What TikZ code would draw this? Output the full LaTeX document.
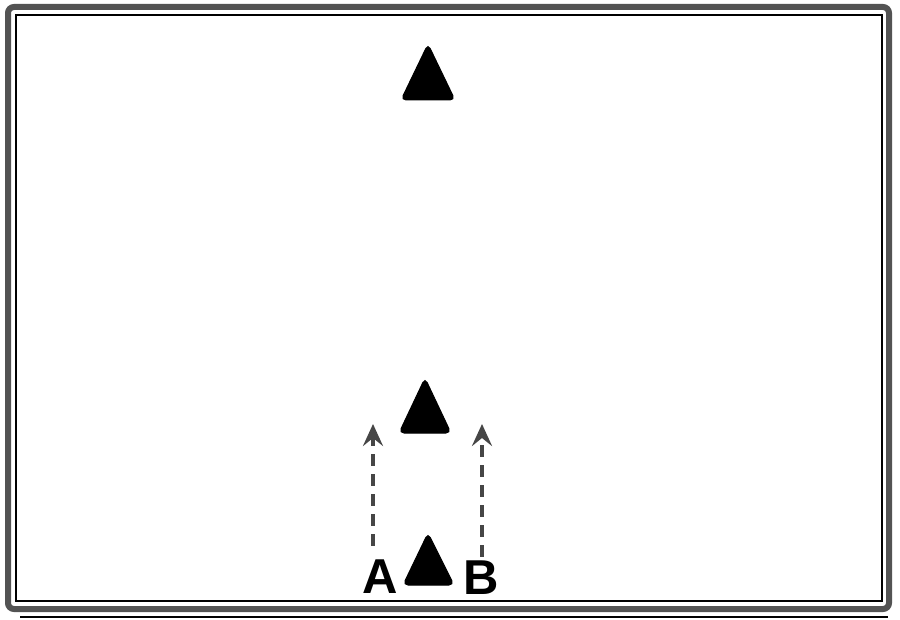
\documentclass[tikz,border=0pt]{standalone}
\usepackage{xcolor}
\usepackage{fontspec}
\usepackage{tikz}
\usetikzlibrary{arrows.meta}
\newfontfamily\labelfont{Liberation Sans}

\begin{document}
\begin{tikzpicture}[x=1pt,y=-1pt,
    cone/.style={fill=black,draw=black,line width=1pt,rounded corners=5pt},
    run/.style={gray!55!black,line width=4.5pt,dash pattern=on 12pt off 8pt,
        -{Stealth[length=22pt,width=20pt,inset=8pt]}},
    letter/.style={font=\labelfont\bfseries\fontsize{49}{49}\selectfont,inner sep=0pt}]
    \useasboundingbox (0,0) rectangle (900,620);
    % frame
    \draw[gray!65!black,line width=6pt,rounded corners=6pt] (8,7) rectangle (889,609);
    \draw[line width=2pt] (16,15) rectangle (882,601);
    \draw[line width=2pt] (20,617) -- (888,617);
    % cones
    \fill[cone] (428,44) -- (455,100) -- (401,100) -- cycle;
    \fill[cone] (425,378) -- (451,433) -- (399,433) -- cycle;
    \fill[cone] (428,533) -- (454,585) -- (403,585) -- cycle;
    % labels and runs
    \node[letter] (labA) at (380,577) {A};
    \node[letter] (labB) at (481,578) {B};
    \coordinate (tipA) at (373,424);
    \coordinate (tipB) at (482,424);
    \draw[run] (labA.north -| tipA) ++(0,-14) -- (tipA);
    \draw[run] (labB.north -| tipB) ++(0,-4) -- (tipB);
\end{tikzpicture}
\end{document}
